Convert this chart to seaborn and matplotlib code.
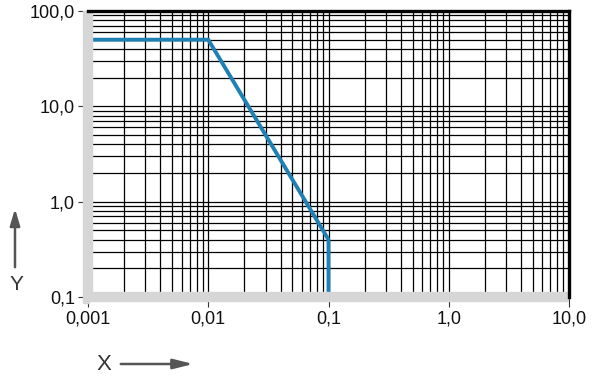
import matplotlib
matplotlib.use("Agg")
import matplotlib.pyplot as plt
import seaborn as sns
import pandas as pd
import numpy as np

# Data
x_vals = [0.001, 0.01, 0.1, 0.1]
y_vals = [50.0, 50.0, 0.4, 0.1]

x_ticks = [0.001, 0.01, 0.1, 1.0, 10.0]
x_tick_labels = ["0,001", "0,01", "0,1", "1,0", "10,0"]
y_ticks = [0.1, 1.0, 10.0, 100.0]
y_tick_labels = ["0,1", "1,0", "10,0", "100,0"]

sns.set_style("white")
plt.rcParams['font.family'] = ['Liberation Sans', 'DejaVu Sans']

W, H = 600, 379
fig = plt.figure(figsize=(W / 100, H / 100), dpi=100)
ax = fig.add_axes([88 / W, 1 - 297 / H, (569 - 88) / W, (297 - 11) / H])

df = pd.DataFrame({"x": x_vals, "y": y_vals})
sns.lineplot(data=df, x="x", y="y", ax=ax, sort=False, estimator=None,
             color="#1f80b4", linewidth=2.8, zorder=2)

ax.set_xscale("log")
ax.set_yscale("log")
ax.set_xlim(x_ticks[0], x_ticks[-1])
ax.set_ylim(y_ticks[0], y_ticks[-1])

ax.set_xticks(x_ticks, x_tick_labels)
ax.set_yticks(y_ticks, y_tick_labels)
ax.xaxis.set_minor_locator(matplotlib.ticker.LogLocator(base=10, subs=np.arange(2, 10)))
ax.yaxis.set_minor_locator(matplotlib.ticker.LogLocator(base=10, subs=np.arange(2, 10)))
ax.xaxis.set_minor_formatter(matplotlib.ticker.NullFormatter())
ax.yaxis.set_minor_formatter(matplotlib.ticker.NullFormatter())

ax.grid(True, which="both", color="black", linewidth=0.9)
ax.set_axisbelow(True)

ax.tick_params(axis="both", which="major", direction="out", length=7.5, width=0.8,
               color="#333333", labelsize=13, pad=2, labelcolor="#111111",
               bottom=True, left=True)
ax.tick_params(axis="both", which="minor", length=0)

for s in ["left", "bottom"]:
    ax.spines[s].set_color("#d6d6d6")
    ax.spines[s].set_linewidth(7.5)
    ax.spines[s].set_capstyle("butt")
for s in ["top", "right"]:
    ax.spines[s].set_color("black")
    ax.spines[s].set_linewidth(2.4)
    ax.spines[s].set_zorder(3)

# fill the bottom-left corner of the gray frame
corner = matplotlib.patches.Rectangle((83 / W, 1 - 302.5 / H), 6 / W, 6 / H,
                                      transform=fig.transFigure, color="#d6d6d6",
                                      zorder=3)
fig.patches.append(corner)

ax.set_xlabel("")
ax.set_ylabel("")

# Axis name arrows
def fx(px):
    return px / W

def fy(py):
    return 1 - py / H

fig.patches.append(matplotlib.patches.FancyArrowPatch(
    (fx(15), fy(270)), (fx(15), fy(206)), transform=fig.transFigure,
    arrowstyle="-|>,head_length=10,head_width=3", color="#555555", linewidth=1.8))
fig.text(fx(16), fy(284), "Y", ha="center", va="center", fontsize=15, color="#333333")

fig.patches.append(matplotlib.patches.FancyArrowPatch(
    (fx(118), fy(364)), (fx(196), fy(364)), transform=fig.transFigure,
    arrowstyle="-|>,head_length=12,head_width=3", color="#555555", linewidth=1.8))
fig.text(fx(104), fy(365), "X", ha="center", va="center", fontsize=16, color="#333333")

fig.savefig("out.png", dpi=100)
